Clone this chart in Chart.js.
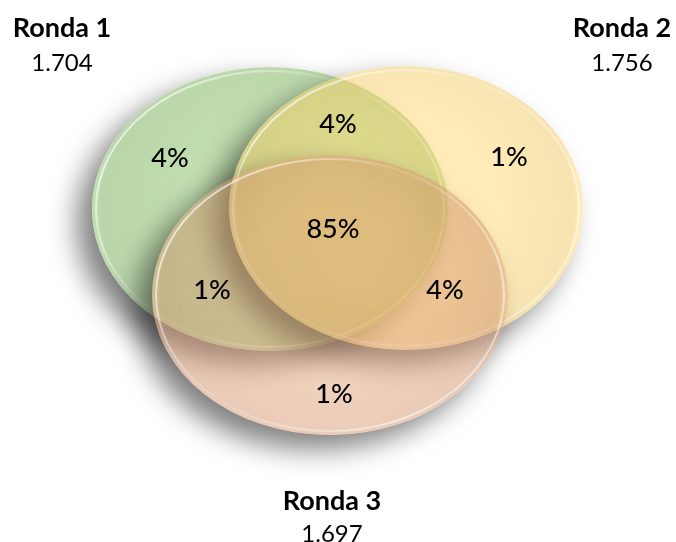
<!DOCTYPE html>
<html><head><meta charset="utf-8">
<script src="https://cdn.jsdelivr.net/npm/chart.js@4.4.1/dist/chart.umd.min.js"></script>
<style>html,body{margin:0;padding:0;background:#fff}#wrap{width:676px;height:542px;position:relative}</style>
</head><body><div id="wrap"><canvas id="c"></canvas></div>
<script>
// ---- data ----
const setNames = ['Ronda 1', 'Ronda 2', 'Ronda 3'];
const setTotals = ['1.704', '1.756', '1.697'];
const regionNames = ['Solo Ronda 1', 'Ronda 1 y 2', 'Solo Ronda 2', 'Ronda 1, 2 y 3', 'Ronda 1 y 3', 'Ronda 2 y 3', 'Solo Ronda 3'];
const regionValues = [4, 4, 1, 85, 1, 4, 1];

// ---- layout (in data units of the hidden linear scales) ----
const ellipseGeom = [
  {cx: 270, cy: 209, rx: 178, ry: 142},
  {cx: 406, cy: 208, rx: 177, ry: 142},
  {cx: 330, cy: 295, rx: 178, ry: 140}
];
const ellipseFill = ['rgba(158,204,132,0.64)', 'rgba(255,212,96,0.45)', 'rgba(222,152,108,0.45)'];
const setLabelPos = [{x: 62, y: 27, y2: 62}, {x: 622, y: 27, y2: 62}, {x: 332, y: 500, y2: 533}];
const regionPos = [{x:170,y:157},{x:338,y:123},{x:509,y:156},{x:333,y:228},{x:212,y:289},{x:445,y:289},{x:334,y:393}];

function ellPath(ctx, e, xs, ys, dx, dy) {
  const cx = xs.getPixelForValue(e.cx) + (dx||0), cy = ys.getPixelForValue(e.cy) + (dy||0);
  const rx = Math.abs(xs.getPixelForValue(e.cx + e.rx) - xs.getPixelForValue(e.cx));
  const ry = Math.abs(ys.getPixelForValue(e.cy + e.ry) - ys.getPixelForValue(e.cy));
  ctx.ellipse(cx, cy, rx, ry, 0, 0, Math.PI * 2);
  return {cx, cy, rx, ry};
}

const vennPlugin = {
  id: 'venn',
  beforeDatasetsDraw(chart) {
    const ctx = chart.ctx, xs = chart.scales.x, ys = chart.scales.y;
    const W = chart.width, H = chart.height;
    ellipseGeom.forEach((e, i) => {
      // shadow, knocked out of its own shape
      ctx.save();
      ctx.beginPath();
      ctx.rect(0, 0, W, H);
      ellPath(ctx, e, xs, ys);
      ctx.clip('evenodd');
      ctx.shadowColor = 'rgba(0,0,0,0.5)';
      ctx.shadowBlur = 28;
      ctx.shadowOffsetX = -15 + 10000;
      ctx.shadowOffsetY = 14;
      ctx.fillStyle = '#000';
      ctx.beginPath();
      ellPath(ctx, e, xs, ys, -10000, 0);
      ctx.fill();
      ctx.restore();
      // fill
      ctx.save();
      ctx.beginPath();
      const g = ellPath(ctx, e, xs, ys);
      ctx.fillStyle = ellipseFill[i];
      ctx.fill();
      // bevel shading
      ctx.clip();
      const rg = ctx.createRadialGradient(g.cx, g.cy, Math.min(g.rx, g.ry) * 0.6, g.cx, g.cy, Math.max(g.rx, g.ry));
      rg.addColorStop(0, 'rgba(0,0,0,0)');
      rg.addColorStop(0.9, 'rgba(0,0,0,0.04)');
      rg.addColorStop(1, 'rgba(255,255,255,0.0)');
      ctx.fillStyle = rg;
      ctx.fill();
      // highlight rim
      const lg = ctx.createLinearGradient(g.cx - g.rx, g.cy - g.ry, g.cx + g.rx, g.cy + g.ry);
      lg.addColorStop(0, 'rgba(255,255,255,0.9)');
      lg.addColorStop(0.45, 'rgba(255,255,255,0.1)');
      lg.addColorStop(0.8, 'rgba(255,255,255,0.55)');
      lg.addColorStop(1, 'rgba(255,255,255,0.2)');
      ctx.strokeStyle = lg;
      ctx.lineWidth = 2;
      ctx.beginPath();
      ctx.ellipse(g.cx, g.cy, g.rx - 4, g.ry - 4, 0, 0, Math.PI * 2);
      ctx.stroke();
      ctx.restore();
    });
  },
  afterDatasetsDraw(chart) {
    const ctx = chart.ctx, xs = chart.scales.x, ys = chart.scales.y;
    ctx.save();
    ctx.textAlign = 'center';
    ctx.textBaseline = 'alphabetic';
    ctx.fillStyle = '#000';
    const ds = chart.data.datasets[0].data;
    ds.forEach((p, i) => {
      const px = xs.getPixelForValue(p.x), py = ys.getPixelForValue(p.y);
      ctx.font = '500 27px Lato';
      ctx.fillText(regionValues[i] + '%', px, py + 9.8);
    });
    setNames.forEach((n, i) => {
      const p = setLabelPos[i];
      const px = xs.getPixelForValue(p.x);
      ctx.font = 'bold 27px Lato';
      ctx.fillText(n, px, ys.getPixelForValue(p.y) + 9.7);
      ctx.font = '24px Lato';
      ctx.fillText(setTotals[i], px, ys.getPixelForValue(p.y2) + 8.6);
    });
    ctx.restore();
  }
};

new Chart(document.getElementById('c'), {
  type: 'scatter',
  data: {
    datasets: [{
      label: 'Regiones',
      data: regionPos.map((p, i) => ({x: p.x, y: p.y, v: regionValues[i], name: regionNames[i]})),
      pointRadius: 0,
      pointHoverRadius: 0
    }]
  },
  options: {
    responsive: true,
    maintainAspectRatio: false,
    animation: false,
    layout: {padding: 0},
    plugins: {legend: {display: false}, tooltip: {enabled: false}},
    scales: {
      x: {type: 'linear', min: 0, max: 676, display: false},
      y: {type: 'linear', min: 0, max: 542, reverse: true, display: false}
    }
  },
  plugins: [vennPlugin]
});
</script>
</body></html>
